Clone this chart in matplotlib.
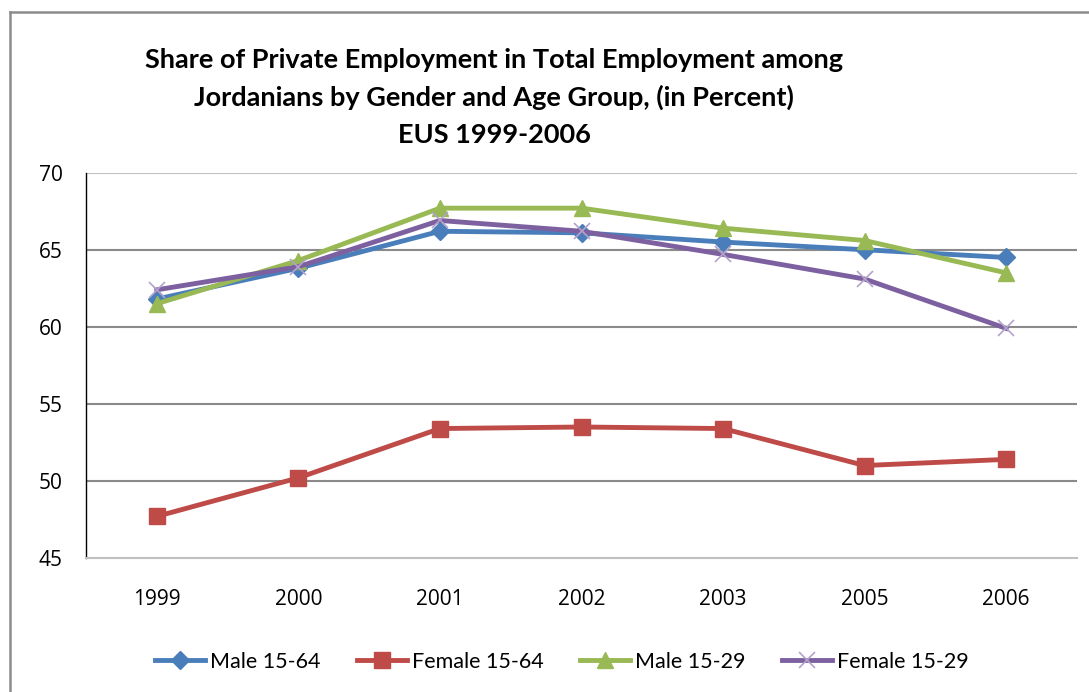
import matplotlib
matplotlib.use("Agg")
import matplotlib.pyplot as plt
from matplotlib.lines import Line2D

years = ["1999", "2000", "2001", "2002", "2003", "2005", "2006"]
male_15_64 = [61.8, 63.8, 66.2, 66.1, 65.5, 65.0, 64.5]
female_15_64 = [47.7, 50.2, 53.4, 53.5, 53.4, 51.0, 51.4]
male_15_29 = [61.5, 64.3, 67.7, 67.7, 66.4, 65.6, 63.5]
female_15_29 = [62.4, 63.9, 66.9, 66.2, 64.7, 63.1, 59.9]
y_ticks = [45, 50, 55, 60, 65, 70]

title_lines = [
    "Share of Private Employment in Total Employment among",
    "Jordanians by Gender and Age Group, (in Percent)",
    "EUS 1999-2006",
]

label_font = ["Lato", "DejaVu Sans"]
tick_font = ["Open Sans", "DejaVu Sans"]

fig = plt.figure(figsize=(10.89, 6.92), dpi=100)
fig.patch.set_facecolor("white")

# outer chart frame (left and top edges)
fig.add_artist(Line2D([10 / 1089, 10 / 1089], [0, 1 - 12 / 692], transform=fig.transFigure,
                      color="#8c8c8c", lw=1.8))
fig.add_artist(Line2D([10 / 1089, 1], [1 - 12 / 692, 1 - 12 / 692], transform=fig.transFigure,
                      color="#8c8c8c", lw=1.8))

ax = fig.add_axes([86 / 1089, 1 - 558 / 692, (1077 - 86) / 1089, (558 - 172.7) / 692])
x = list(range(len(years)))

ax.plot(x, male_15_64, color="#4A7EBB", lw=3.5, marker="D", ms=9, mec="#4A7EBB",
        label="Male 15-64", zorder=3)
ax.plot(x, female_15_64, color="#BE4B48", lw=3.5, marker="s", ms=11, mec="#BE4B48",
        label="Female 15-64", zorder=3)
ax.plot(x, male_15_29, color="#98B954", lw=3.5, marker="^", ms=12, mec="#98B954",
        label="Male 15-29", zorder=3)
ax.plot(x, female_15_29, color="#7D60A0", lw=3.5, marker="x", ms=11, mec="#B3A2CC",
        mew=1.2, label="Female 15-29", zorder=4)

ax.set_xlim(-0.5, len(years) - 0.5)
ax.set_ylim(45, 70)
ax.set_yticks(y_ticks)
ax.set_xticks(x)
ax.set_xticklabels(years)
for yv in y_ticks[1:]:
    ax.axhline(yv, color="#8a8a8a" if yv < 70 else "#c0c0c0", lw=1.5, zorder=1)

for s in ["top", "right"]:
    ax.spines[s].set_visible(False)
ax.spines["left"].set_color("#000000")
ax.spines["left"].set_linewidth(1.0)
ax.spines["bottom"].set_color("#c0c0c0")
ax.spines["bottom"].set_linewidth(1.5)
ax.tick_params(axis="both", length=0, labelsize=15, colors="#000000")
ax.tick_params(axis="y", pad=17)
ax.tick_params(axis="x", pad=22)
for lbl in ax.get_xticklabels() + ax.get_yticklabels():
    lbl.set_fontfamily(tick_font)

for i, line in enumerate(title_lines):
    fig.text(494 / 1089, 1 - (60 + i * 37.5) / 692, line, ha="center", va="center",
             fontsize=19.5, fontweight="bold", family=label_font, color="#000000")

leg = fig.legend(loc="center", bbox_to_anchor=(562 / 1089, 1 - 662 / 692), ncol=4,
                 frameon=False, handlelength=2.3, handletextpad=0.25, columnspacing=1.7,
                 prop={"family": label_font, "size": 15.5})
for t in leg.get_texts():
    t.set_color("#000000")

fig.savefig("out.png", dpi=100, facecolor="white")
